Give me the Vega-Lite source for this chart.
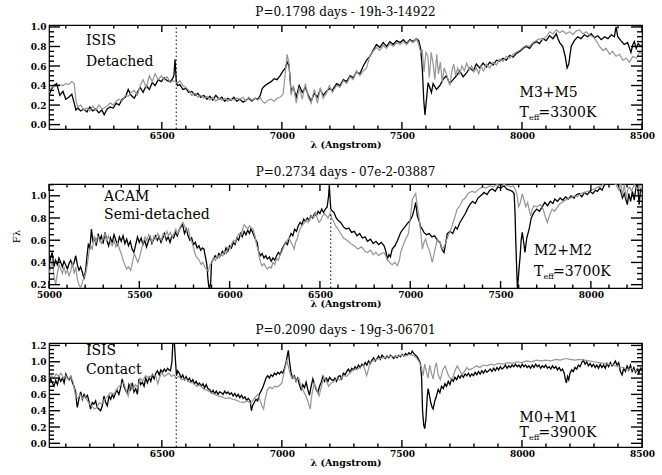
{
"$schema": "https://vega.github.io/schema/vega-lite/v6.json",
"background": "white",
"padding": {"left": 10, "top": 5, "right": 5, "bottom": 5},
"bounds": "flush",
"spacing": 55,
"config": {
  "view": {"stroke": "#000", "strokeWidth": 1.2},
  "font": "DejaVu Serif",
  "axis": {"grid": false, "domain": false, "ticks": false, "labelFont": "DejaVu Serif", "labelFontSize": 9, "labelFontWeight": "bold", "labelColor": "#000", "titleFont": "DejaVu Serif", "titleFontSize": 9.5, "titleFontWeight": "bold", "titleColor": "#000", "labelOverlap": false, "labelFlush": false},
  "title": {"font": "DejaVu Serif", "fontSize": 12, "fontWeight": "normal", "color": "#000", "offset": 4},
  "text": {"font": "DejaVu Serif", "fontSize": 14, "align": "left", "baseline": "alphabetic", "color": "#000"},
  "rule": {"color": "#000", "strokeWidth": 1.4}
},
"datasets": {
"xM13": [{"t":6500},{"t":7000},{"t":7500},{"t":8000},{"t":8500}],
"xm13": [{"t":6100},{"t":6200},{"t":6300},{"t":6400},{"t":6600},{"t":6700},{"t":6800},{"t":6900},{"t":7100},{"t":7200},{"t":7300},{"t":7400},{"t":7600},{"t":7700},{"t":7800},{"t":7900},{"t":8100},{"t":8200},{"t":8300},{"t":8400}],
"xM2": [{"t":5000},{"t":5500},{"t":6000},{"t":6500},{"t":7000},{"t":7500},{"t":8000}],
"xm2": [{"t":5100},{"t":5200},{"t":5300},{"t":5400},{"t":5600},{"t":5700},{"t":5800},{"t":5900},{"t":6100},{"t":6200},{"t":6300},{"t":6400},{"t":6600},{"t":6700},{"t":6800},{"t":6900},{"t":7100},{"t":7200},{"t":7300},{"t":7400},{"t":7600},{"t":7700},{"t":7800},{"t":7900},{"t":8100},{"t":8200}],
"yM1": [{"t":0},{"t":0.2},{"t":0.4},{"t":0.6},{"t":0.8},{"t":1.0}],
"ym1": [{"t":0.05},{"t":0.1},{"t":0.15},{"t":0.25},{"t":0.3},{"t":0.35},{"t":0.45},{"t":0.5},{"t":0.55},{"t":0.65},{"t":0.7},{"t":0.75},{"t":0.85},{"t":0.9},{"t":0.95}],
"yM2": [{"t":0.2},{"t":0.4},{"t":0.6},{"t":0.8},{"t":1.0}],
"ym2": [{"t":0.25},{"t":0.3},{"t":0.35},{"t":0.45},{"t":0.5},{"t":0.55},{"t":0.65},{"t":0.7},{"t":0.75},{"t":0.85},{"t":0.9},{"t":0.95},{"t":1.05},{"t":1.1}],
"yM3": [{"t":0},{"t":0.2},{"t":0.4},{"t":0.6},{"t":0.8},{"t":1.0},{"t":1.2}],
"ym3": [{"t":0.05},{"t":0.1},{"t":0.15},{"t":0.25},{"t":0.3},{"t":0.35},{"t":0.45},{"t":0.5},{"t":0.55},{"t":0.65},{"t":0.7},{"t":0.75},{"t":0.85},{"t":0.9},{"t":0.95},{"t":1.05},{"t":1.1},{"t":1.15}],
"p1b": [{"w":6030,"f":0.30},{"w":6040,"f":0.36},{"w":6050,"f":0.40},{"w":6062,"f":0.42},{"w":6075,"f":0.30},{"w":6088,"f":0.34},{"w":6100,"f":0.26},{"w":6112,"f":0.28},{"w":6125,"f":0.31},{"w":6135,"f":0.22},{"w":6142,"f":0.15},{"w":6150,"f":0.17},{"w":6162,"f":0.14},{"w":6175,"f":0.16},{"w":6188,"f":0.13},{"w":6200,"f":0.18},{"w":6212,"f":0.14},{"w":6225,"f":0.16},{"w":6238,"f":0.12},{"w":6250,"f":0.15},{"w":6260,"f":0.10},{"w":6272,"f":0.16},{"w":6285,"f":0.18},{"w":6298,"f":0.17},{"w":6310,"f":0.22},{"w":6322,"f":0.20},{"w":6335,"f":0.26},{"w":6348,"f":0.28},{"w":6360,"f":0.36},{"w":6372,"f":0.30},{"w":6385,"f":0.27},{"w":6398,"f":0.33},{"w":6410,"f":0.38},{"w":6422,"f":0.33},{"w":6435,"f":0.40},{"w":6448,"f":0.36},{"w":6460,"f":0.43},{"w":6472,"f":0.40},{"w":6485,"f":0.46},{"w":6498,"f":0.44},{"w":6510,"f":0.48},{"w":6522,"f":0.45},{"w":6535,"f":0.44},{"w":6545,"f":0.47},{"w":6550,"f":0.50},{"w":6555,"f":0.67},{"w":6560,"f":0.45},{"w":6565,"f":0.40},{"w":6575,"f":0.41},{"w":6588,"f":0.36},{"w":6600,"f":0.37},{"w":6612,"f":0.33},{"w":6625,"f":0.34},{"w":6638,"f":0.30},{"w":6650,"f":0.32},{"w":6662,"f":0.28},{"w":6675,"f":0.30},{"w":6688,"f":0.26},{"w":6700,"f":0.29},{"w":6712,"f":0.25},{"w":6725,"f":0.30},{"w":6738,"f":0.26},{"w":6750,"f":0.28},{"w":6762,"f":0.24},{"w":6775,"f":0.27},{"w":6788,"f":0.25},{"w":6800,"f":0.28},{"w":6812,"f":0.24},{"w":6825,"f":0.26},{"w":6838,"f":0.23},{"w":6850,"f":0.25},{"w":6862,"f":0.27},{"w":6875,"f":0.24},{"w":6888,"f":0.27},{"w":6900,"f":0.26},{"w":6910,"f":0.30},{"w":6918,"f":0.37},{"w":6930,"f":0.40},{"w":6942,"f":0.42},{"w":6955,"f":0.44},{"w":6968,"f":0.47},{"w":6980,"f":0.46},{"w":6992,"f":0.50},{"w":7005,"f":0.55},{"w":7015,"f":0.58},{"w":7022,"f":0.64},{"w":7030,"f":0.60},{"w":7038,"f":0.35},{"w":7048,"f":0.38},{"w":7060,"f":0.28},{"w":7072,"f":0.40},{"w":7085,"f":0.33},{"w":7098,"f":0.38},{"w":7110,"f":0.30},{"w":7122,"f":0.24},{"w":7135,"f":0.32},{"w":7148,"f":0.28},{"w":7160,"f":0.36},{"w":7172,"f":0.30},{"w":7185,"f":0.34},{"w":7198,"f":0.37},{"w":7210,"f":0.35},{"w":7228,"f":0.42},{"w":7242,"f":0.40},{"w":7256,"f":0.46},{"w":7270,"f":0.44},{"w":7284,"f":0.50},{"w":7297,"f":0.48},{"w":7311,"f":0.54},{"w":7325,"f":0.52},{"w":7339,"f":0.60},{"w":7353,"f":0.66},{"w":7367,"f":0.70},{"w":7380,"f":0.76},{"w":7394,"f":0.82},{"w":7408,"f":0.79},{"w":7422,"f":0.84},{"w":7436,"f":0.80},{"w":7450,"f":0.85},{"w":7464,"f":0.82},{"w":7478,"f":0.86},{"w":7492,"f":0.84},{"w":7506,"f":0.87},{"w":7520,"f":0.83},{"w":7533,"f":0.87},{"w":7547,"f":0.85},{"w":7560,"f":0.88},{"w":7570,"f":0.86},{"w":7578,"f":0.78},{"w":7585,"f":0.57},{"w":7591,"f":0.25},{"w":7596,"f":0.10},{"w":7602,"f":0.25},{"w":7609,"f":0.43},{"w":7616,"f":0.38},{"w":7623,"f":0.33},{"w":7630,"f":0.42},{"w":7644,"f":0.36},{"w":7658,"f":0.40},{"w":7671,"f":0.46},{"w":7685,"f":0.50},{"w":7699,"f":0.42},{"w":7713,"f":0.46},{"w":7727,"f":0.50},{"w":7741,"f":0.55},{"w":7755,"f":0.49},{"w":7769,"f":0.53},{"w":7783,"f":0.58},{"w":7797,"f":0.55},{"w":7810,"f":0.62},{"w":7824,"f":0.58},{"w":7838,"f":0.63},{"w":7852,"f":0.59},{"w":7866,"f":0.64},{"w":7880,"f":0.61},{"w":7894,"f":0.66},{"w":7907,"f":0.65},{"w":7921,"f":0.68},{"w":7935,"f":0.66},{"w":7949,"f":0.71},{"w":7963,"f":0.69},{"w":7977,"f":0.73},{"w":7991,"f":0.75},{"w":8004,"f":0.78},{"w":8018,"f":0.80},{"w":8032,"f":0.78},{"w":8046,"f":0.83},{"w":8060,"f":0.85},{"w":8073,"f":0.83},{"w":8087,"f":0.88},{"w":8101,"f":0.86},{"w":8115,"f":0.91},{"w":8129,"f":0.88},{"w":8143,"f":0.93},{"w":8150,"f":0.88},{"w":8157,"f":0.84},{"w":8170,"f":0.80},{"w":8180,"f":0.70},{"w":8188,"f":0.58},{"w":8195,"f":0.62},{"w":8205,"f":0.80},{"w":8218,"f":0.86},{"w":8232,"f":0.90},{"w":8246,"f":0.88},{"w":8260,"f":0.92},{"w":8274,"f":0.90},{"w":8288,"f":0.93},{"w":8302,"f":0.89},{"w":8316,"f":0.91},{"w":8330,"f":0.87},{"w":8344,"f":0.90},{"w":8358,"f":0.88},{"w":8372,"f":0.92},{"w":8385,"f":0.90},{"w":8392,"f":1.0},{"w":8399,"f":0.90},{"w":8412,"f":0.86},{"w":8426,"f":0.82},{"w":8440,"f":0.84},{"w":8454,"f":0.74},{"w":8462,"f":0.82},{"w":8468,"f":0.85},{"w":8476,"f":0.78},{"w":8484,"f":0.83},{"w":8496,"f":0.80},{"w":8500,"f":0.81}],
"p1g": [{"w":6030,"f":0.33},{"w":6040,"f":0.38},{"w":6050,"f":0.39},{"w":6062,"f":0.40},{"w":6075,"f":0.41},{"w":6088,"f":0.40},{"w":6100,"f":0.42},{"w":6112,"f":0.41},{"w":6125,"f":0.44},{"w":6135,"f":0.42},{"w":6142,"f":0.25},{"w":6150,"f":0.18},{"w":6162,"f":0.20},{"w":6175,"f":0.15},{"w":6188,"f":0.17},{"w":6200,"f":0.14},{"w":6212,"f":0.19},{"w":6225,"f":0.15},{"w":6238,"f":0.20},{"w":6250,"f":0.16},{"w":6260,"f":0.17},{"w":6272,"f":0.19},{"w":6285,"f":0.22},{"w":6298,"f":0.20},{"w":6310,"f":0.24},{"w":6322,"f":0.26},{"w":6335,"f":0.24},{"w":6348,"f":0.30},{"w":6360,"f":0.29},{"w":6372,"f":0.33},{"w":6385,"f":0.35},{"w":6398,"f":0.30},{"w":6410,"f":0.40},{"w":6422,"f":0.46},{"w":6435,"f":0.38},{"w":6448,"f":0.50},{"w":6460,"f":0.44},{"w":6472,"f":0.52},{"w":6485,"f":0.46},{"w":6498,"f":0.50},{"w":6510,"f":0.46},{"w":6522,"f":0.49},{"w":6535,"f":0.43},{"w":6545,"f":0.45},{"w":6555,"f":0.44},{"w":6565,"f":0.42},{"w":6575,"f":0.45},{"w":6588,"f":0.40},{"w":6600,"f":0.38},{"w":6612,"f":0.35},{"w":6625,"f":0.30},{"w":6638,"f":0.32},{"w":6650,"f":0.28},{"w":6662,"f":0.30},{"w":6675,"f":0.27},{"w":6688,"f":0.29},{"w":6700,"f":0.25},{"w":6712,"f":0.28},{"w":6725,"f":0.24},{"w":6738,"f":0.27},{"w":6750,"f":0.25},{"w":6762,"f":0.27},{"w":6775,"f":0.24},{"w":6788,"f":0.26},{"w":6800,"f":0.25},{"w":6812,"f":0.27},{"w":6825,"f":0.26},{"w":6838,"f":0.28},{"w":6850,"f":0.24},{"w":6862,"f":0.28},{"w":6875,"f":0.25},{"w":6888,"f":0.27},{"w":6900,"f":0.25},{"w":6910,"f":0.28},{"w":6918,"f":0.24},{"w":6930,"f":0.22},{"w":6942,"f":0.25},{"w":6955,"f":0.26},{"w":6968,"f":0.24},{"w":6980,"f":0.27},{"w":6992,"f":0.28},{"w":7005,"f":0.31},{"w":7015,"f":0.55},{"w":7022,"f":0.72},{"w":7030,"f":0.62},{"w":7038,"f":0.30},{"w":7048,"f":0.40},{"w":7060,"f":0.22},{"w":7072,"f":0.38},{"w":7085,"f":0.26},{"w":7098,"f":0.42},{"w":7110,"f":0.28},{"w":7122,"f":0.22},{"w":7135,"f":0.36},{"w":7148,"f":0.22},{"w":7160,"f":0.38},{"w":7172,"f":0.27},{"w":7185,"f":0.32},{"w":7198,"f":0.40},{"w":7210,"f":0.33},{"w":7228,"f":0.40},{"w":7242,"f":0.38},{"w":7256,"f":0.45},{"w":7270,"f":0.42},{"w":7284,"f":0.49},{"w":7297,"f":0.46},{"w":7311,"f":0.55},{"w":7325,"f":0.50},{"w":7339,"f":0.55},{"w":7353,"f":0.58},{"w":7367,"f":0.71},{"w":7380,"f":0.75},{"w":7394,"f":0.79},{"w":7408,"f":0.76},{"w":7422,"f":0.81},{"w":7436,"f":0.78},{"w":7450,"f":0.83},{"w":7464,"f":0.80},{"w":7478,"f":0.84},{"w":7492,"f":0.82},{"w":7506,"f":0.85},{"w":7520,"f":0.82},{"w":7533,"f":0.86},{"w":7547,"f":0.84},{"w":7560,"f":0.88},{"w":7570,"f":0.82},{"w":7578,"f":0.74},{"w":7585,"f":0.76},{"w":7592,"f":0.54},{"w":7600,"f":0.74},{"w":7608,"f":0.70},{"w":7614,"f":0.48},{"w":7622,"f":0.74},{"w":7630,"f":0.62},{"w":7637,"f":0.46},{"w":7645,"f":0.72},{"w":7652,"f":0.52},{"w":7660,"f":0.64},{"w":7668,"f":0.44},{"w":7676,"f":0.58},{"w":7685,"f":0.52},{"w":7692,"f":0.46},{"w":7700,"f":0.40},{"w":7708,"f":0.55},{"w":7716,"f":0.62},{"w":7724,"f":0.50},{"w":7732,"f":0.58},{"w":7741,"f":0.52},{"w":7750,"f":0.60},{"w":7760,"f":0.55},{"w":7770,"f":0.63},{"w":7780,"f":0.56},{"w":7790,"f":0.60},{"w":7800,"f":0.54},{"w":7810,"f":0.58},{"w":7820,"f":0.52},{"w":7830,"f":0.60},{"w":7840,"f":0.55},{"w":7852,"f":0.62},{"w":7866,"f":0.58},{"w":7880,"f":0.64},{"w":7894,"f":0.61},{"w":7907,"f":0.67},{"w":7921,"f":0.65},{"w":7935,"f":0.70},{"w":7949,"f":0.68},{"w":7963,"f":0.72},{"w":7977,"f":0.74},{"w":7991,"f":0.76},{"w":8004,"f":0.79},{"w":8018,"f":0.81},{"w":8032,"f":0.80},{"w":8046,"f":0.84},{"w":8060,"f":0.86},{"w":8073,"f":0.88},{"w":8087,"f":0.87},{"w":8101,"f":0.90},{"w":8115,"f":0.95},{"w":8129,"f":0.93},{"w":8143,"f":0.97},{"w":8157,"f":0.94},{"w":8170,"f":0.96},{"w":8184,"f":0.93},{"w":8198,"f":0.95},{"w":8212,"f":0.92},{"w":8226,"f":0.96},{"w":8240,"f":0.97},{"w":8254,"f":0.93},{"w":8268,"f":0.95},{"w":8281,"f":0.92},{"w":8295,"f":0.90},{"w":8309,"f":0.86},{"w":8323,"f":0.80},{"w":8337,"f":0.76},{"w":8351,"f":0.78},{"w":8365,"f":0.72},{"w":8378,"f":0.75},{"w":8392,"f":0.70},{"w":8406,"f":0.72},{"w":8420,"f":0.66},{"w":8434,"f":0.68},{"w":8448,"f":0.64},{"w":8462,"f":0.70},{"w":8476,"f":0.68},{"w":8490,"f":0.74},{"w":8500,"f":0.72}],
"p2b": [{"w":5000,"f":0.37},{"w":5010,"f":0.45},{"w":5018,"f":0.49},{"w":5027,"f":0.36},{"w":5036,"f":0.42},{"w":5046,"f":0.38},{"w":5055,"f":0.44},{"w":5065,"f":0.40},{"w":5074,"f":0.36},{"w":5083,"f":0.41},{"w":5092,"f":0.38},{"w":5102,"f":0.34},{"w":5111,"f":0.39},{"w":5120,"f":0.42},{"w":5130,"f":0.37},{"w":5139,"f":0.40},{"w":5148,"f":0.46},{"w":5157,"f":0.38},{"w":5166,"f":0.33},{"w":5175,"f":0.36},{"w":5185,"f":0.31},{"w":5194,"f":0.25},{"w":5203,"f":0.33},{"w":5210,"f":0.45},{"w":5218,"f":0.57},{"w":5226,"f":0.52},{"w":5235,"f":0.70},{"w":5244,"f":0.58},{"w":5253,"f":0.62},{"w":5262,"f":0.55},{"w":5272,"f":0.66},{"w":5281,"f":0.60},{"w":5290,"f":0.64},{"w":5300,"f":0.57},{"w":5310,"f":0.67},{"w":5320,"f":0.60},{"w":5330,"f":0.55},{"w":5340,"f":0.62},{"w":5350,"f":0.58},{"w":5360,"f":0.65},{"w":5370,"f":0.60},{"w":5380,"f":0.56},{"w":5390,"f":0.63},{"w":5400,"f":0.59},{"w":5410,"f":0.64},{"w":5420,"f":0.57},{"w":5430,"f":0.61},{"w":5440,"f":0.55},{"w":5450,"f":0.59},{"w":5460,"f":0.52},{"w":5470,"f":0.49},{"w":5480,"f":0.56},{"w":5490,"f":0.63},{"w":5500,"f":0.58},{"w":5510,"f":0.62},{"w":5520,"f":0.56},{"w":5530,"f":0.60},{"w":5540,"f":0.54},{"w":5550,"f":0.59},{"w":5560,"f":0.63},{"w":5570,"f":0.57},{"w":5580,"f":0.61},{"w":5590,"f":0.64},{"w":5600,"f":0.60},{"w":5610,"f":0.63},{"w":5620,"f":0.58},{"w":5630,"f":0.62},{"w":5640,"f":0.66},{"w":5650,"f":0.60},{"w":5660,"f":0.63},{"w":5670,"f":0.58},{"w":5680,"f":0.64},{"w":5690,"f":0.62},{"w":5700,"f":0.67},{"w":5710,"f":0.64},{"w":5720,"f":0.69},{"w":5730,"f":0.72},{"w":5740,"f":0.74},{"w":5750,"f":0.66},{"w":5760,"f":0.70},{"w":5770,"f":0.64},{"w":5780,"f":0.60},{"w":5790,"f":0.62},{"w":5800,"f":0.56},{"w":5810,"f":0.58},{"w":5820,"f":0.53},{"w":5830,"f":0.55},{"w":5840,"f":0.51},{"w":5850,"f":0.53},{"w":5858,"f":0.52},{"w":5866,"f":0.45},{"w":5874,"f":0.38},{"w":5880,"f":0.25},{"w":5885,"f":0.18},{"w":5890,"f":0.17},{"w":5895,"f":0.22},{"w":5900,"f":0.40},{"w":5910,"f":0.43},{"w":5920,"f":0.46},{"w":5930,"f":0.44},{"w":5940,"f":0.48},{"w":5950,"f":0.46},{"w":5960,"f":0.50},{"w":5970,"f":0.48},{"w":5980,"f":0.53},{"w":5990,"f":0.50},{"w":6000,"f":0.55},{"w":6010,"f":0.53},{"w":6020,"f":0.58},{"w":6030,"f":0.56},{"w":6040,"f":0.62},{"w":6050,"f":0.60},{"w":6060,"f":0.66},{"w":6070,"f":0.63},{"w":6080,"f":0.68},{"w":6090,"f":0.65},{"w":6100,"f":0.69},{"w":6110,"f":0.66},{"w":6117,"f":0.70},{"w":6125,"f":0.68},{"w":6135,"f":0.64},{"w":6145,"f":0.60},{"w":6153,"f":0.58},{"w":6160,"f":0.50},{"w":6170,"f":0.46},{"w":6180,"f":0.48},{"w":6190,"f":0.44},{"w":6200,"f":0.46},{"w":6209,"f":0.43},{"w":6220,"f":0.45},{"w":6230,"f":0.41},{"w":6240,"f":0.44},{"w":6250,"f":0.42},{"w":6260,"f":0.46},{"w":6270,"f":0.49},{"w":6280,"f":0.47},{"w":6290,"f":0.52},{"w":6300,"f":0.55},{"w":6310,"f":0.58},{"w":6320,"f":0.56},{"w":6330,"f":0.62},{"w":6340,"f":0.66},{"w":6350,"f":0.64},{"w":6360,"f":0.70},{"w":6370,"f":0.68},{"w":6380,"f":0.73},{"w":6390,"f":0.76},{"w":6400,"f":0.74},{"w":6410,"f":0.79},{"w":6420,"f":0.77},{"w":6430,"f":0.80},{"w":6440,"f":0.78},{"w":6450,"f":0.82},{"w":6460,"f":0.80},{"w":6470,"f":0.84},{"w":6480,"f":0.82},{"w":6490,"f":0.86},{"w":6500,"f":0.84},{"w":6510,"f":0.88},{"w":6520,"f":0.85},{"w":6530,"f":0.88},{"w":6540,"f":0.90},{"w":6548,"f":1.00},{"w":6552,"f":1.10},{"w":6556,"f":0.98},{"w":6560,"f":0.88},{"w":6570,"f":0.86},{"w":6578,"f":0.85},{"w":6590,"f":0.80},{"w":6600,"f":0.78},{"w":6615,"f":0.76},{"w":6630,"f":0.72},{"w":6645,"f":0.70},{"w":6660,"f":0.71},{"w":6675,"f":0.67},{"w":6690,"f":0.68},{"w":6705,"f":0.64},{"w":6720,"f":0.66},{"w":6735,"f":0.62},{"w":6750,"f":0.63},{"w":6763,"f":0.59},{"w":6780,"f":0.61},{"w":6795,"f":0.57},{"w":6810,"f":0.59},{"w":6825,"f":0.56},{"w":6840,"f":0.58},{"w":6855,"f":0.55},{"w":6865,"f":0.50},{"w":6873,"f":0.43},{"w":6882,"f":0.47},{"w":6890,"f":0.45},{"w":6900,"f":0.52},{"w":6915,"f":0.55},{"w":6930,"f":0.60},{"w":6947,"f":0.67},{"w":6960,"f":0.70},{"w":6970,"f":0.72},{"w":6984,"f":0.75},{"w":7000,"f":0.78},{"w":7012,"f":0.82},{"w":7022,"f":0.88},{"w":7030,"f":0.94},{"w":7039,"f":0.82},{"w":7048,"f":0.78},{"w":7058,"f":0.72},{"w":7067,"f":0.70},{"w":7076,"f":0.67},{"w":7090,"f":0.65},{"w":7105,"f":0.66},{"w":7120,"f":0.63},{"w":7135,"f":0.64},{"w":7150,"f":0.60},{"w":7165,"f":0.58},{"w":7175,"f":0.52},{"w":7187,"f":0.49},{"w":7195,"f":0.56},{"w":7205,"f":0.66},{"w":7220,"f":0.68},{"w":7235,"f":0.66},{"w":7250,"f":0.72},{"w":7260,"f":0.70},{"w":7275,"f":0.76},{"w":7290,"f":0.80},{"w":7305,"f":0.84},{"w":7316,"f":0.88},{"w":7330,"f":0.92},{"w":7345,"f":0.95},{"w":7360,"f":0.93},{"w":7375,"f":0.98},{"w":7390,"f":1.00},{"w":7409,"f":1.03},{"w":7425,"f":1.01},{"w":7440,"f":1.05},{"w":7455,"f":1.06},{"w":7470,"f":1.04},{"w":7485,"f":1.08},{"w":7500,"f":1.07},{"w":7519,"f":1.09},{"w":7535,"f":1.06},{"w":7550,"f":1.05},{"w":7565,"f":1.04},{"w":7575,"f":1.02},{"w":7580,"f":0.85},{"w":7584,"f":0.61},{"w":7589,"f":0.35},{"w":7593,"f":0.17},{"w":7598,"f":0.25},{"w":7602,"f":0.34},{"w":7608,"f":0.45},{"w":7614,"f":0.60},{"w":7620,"f":0.67},{"w":7628,"f":0.58},{"w":7635,"f":0.49},{"w":7645,"f":0.62},{"w":7658,"f":0.70},{"w":7670,"f":0.80},{"w":7685,"f":0.85},{"w":7700,"f":0.88},{"w":7715,"f":0.86},{"w":7730,"f":0.90},{"w":7745,"f":0.94},{"w":7760,"f":0.91},{"w":7775,"f":0.95},{"w":7790,"f":0.93},{"w":7800,"f":0.97},{"w":7815,"f":0.95},{"w":7830,"f":0.98},{"w":7845,"f":0.96},{"w":7860,"f":0.99},{"w":7875,"f":0.97},{"w":7890,"f":1.00},{"w":7907,"f":0.98},{"w":7920,"f":1.01},{"w":7935,"f":1.02},{"w":7950,"f":0.99},{"w":7965,"f":1.03},{"w":7980,"f":1.01},{"w":7995,"f":1.04},{"w":8010,"f":1.02},{"w":8025,"f":1.05},{"w":8036,"f":1.04},{"w":8050,"f":1.07},{"w":8062,"f":1.05},{"w":8073,"f":1.09},{"w":8085,"f":1.12},{"w":8100,"f":1.15},{"w":8115,"f":1.14},{"w":8130,"f":1.13},{"w":8145,"f":1.12},{"w":8165,"f":1.04},{"w":8175,"f":0.98},{"w":8185,"f":1.02},{"w":8195,"f":0.96},{"w":8202,"f":0.92},{"w":8210,"f":1.02},{"w":8220,"f":0.95},{"w":8230,"f":1.04},{"w":8240,"f":0.96},{"w":8250,"f":1.08},{"w":8258,"f":1.12},{"w":8267,"f":0.92},{"w":8275,"f":1.06},{"w":8283,"f":1.04}],
"p2g": [{"w":5000,"f":0.30},{"w":5009,"f":0.35},{"w":5018,"f":0.42},{"w":5027,"f":0.28},{"w":5037,"f":0.20},{"w":5046,"f":0.30},{"w":5055,"f":0.38},{"w":5065,"f":0.34},{"w":5074,"f":0.30},{"w":5083,"f":0.36},{"w":5092,"f":0.30},{"w":5102,"f":0.33},{"w":5111,"f":0.28},{"w":5120,"f":0.32},{"w":5130,"f":0.40},{"w":5139,"f":0.30},{"w":5148,"f":0.36},{"w":5157,"f":0.25},{"w":5166,"f":0.20},{"w":5175,"f":0.17},{"w":5185,"f":0.22},{"w":5194,"f":0.27},{"w":5203,"f":0.30},{"w":5212,"f":0.38},{"w":5222,"f":0.50},{"w":5231,"f":0.55},{"w":5240,"f":0.52},{"w":5250,"f":0.62},{"w":5260,"f":0.58},{"w":5270,"f":0.64},{"w":5280,"f":0.60},{"w":5290,"f":0.57},{"w":5300,"f":0.62},{"w":5310,"f":0.66},{"w":5320,"f":0.60},{"w":5330,"f":0.64},{"w":5340,"f":0.58},{"w":5350,"f":0.55},{"w":5360,"f":0.60},{"w":5370,"f":0.54},{"w":5380,"f":0.58},{"w":5390,"f":0.52},{"w":5400,"f":0.48},{"w":5410,"f":0.42},{"w":5420,"f":0.38},{"w":5430,"f":0.34},{"w":5440,"f":0.36},{"w":5452,"f":0.33},{"w":5462,"f":0.40},{"w":5472,"f":0.48},{"w":5482,"f":0.44},{"w":5492,"f":0.40},{"w":5502,"f":0.45},{"w":5512,"f":0.52},{"w":5522,"f":0.58},{"w":5532,"f":0.63},{"w":5542,"f":0.60},{"w":5552,"f":0.65},{"w":5562,"f":0.62},{"w":5572,"f":0.58},{"w":5582,"f":0.64},{"w":5592,"f":0.61},{"w":5602,"f":0.66},{"w":5612,"f":0.62},{"w":5622,"f":0.60},{"w":5632,"f":0.66},{"w":5642,"f":0.63},{"w":5652,"f":0.68},{"w":5662,"f":0.64},{"w":5672,"f":0.67},{"w":5682,"f":0.63},{"w":5692,"f":0.66},{"w":5702,"f":0.70},{"w":5712,"f":0.66},{"w":5722,"f":0.70},{"w":5732,"f":0.74},{"w":5742,"f":0.76},{"w":5752,"f":0.72},{"w":5762,"f":0.68},{"w":5772,"f":0.70},{"w":5782,"f":0.62},{"w":5792,"f":0.58},{"w":5802,"f":0.52},{"w":5812,"f":0.46},{"w":5822,"f":0.44},{"w":5832,"f":0.42},{"w":5842,"f":0.38},{"w":5852,"f":0.40},{"w":5862,"f":0.36},{"w":5872,"f":0.34},{"w":5882,"f":0.32},{"w":5892,"f":0.38},{"w":5902,"f":0.40},{"w":5912,"f":0.44},{"w":5922,"f":0.42},{"w":5932,"f":0.46},{"w":5942,"f":0.44},{"w":5952,"f":0.48},{"w":5962,"f":0.46},{"w":5972,"f":0.50},{"w":5982,"f":0.48},{"w":5992,"f":0.54},{"w":6002,"f":0.52},{"w":6012,"f":0.57},{"w":6022,"f":0.60},{"w":6032,"f":0.58},{"w":6042,"f":0.63},{"w":6052,"f":0.66},{"w":6062,"f":0.64},{"w":6072,"f":0.70},{"w":6080,"f":0.74},{"w":6090,"f":0.72},{"w":6100,"f":0.70},{"w":6110,"f":0.73},{"w":6120,"f":0.71},{"w":6130,"f":0.70},{"w":6140,"f":0.64},{"w":6150,"f":0.55},{"w":6158,"f":0.52},{"w":6165,"f":0.44},{"w":6172,"f":0.40},{"w":6180,"f":0.37},{"w":6190,"f":0.39},{"w":6200,"f":0.36},{"w":6209,"f":0.34},{"w":6220,"f":0.36},{"w":6230,"f":0.35},{"w":6240,"f":0.40},{"w":6250,"f":0.38},{"w":6260,"f":0.44},{"w":6270,"f":0.42},{"w":6280,"f":0.47},{"w":6290,"f":0.50},{"w":6300,"f":0.54},{"w":6310,"f":0.58},{"w":6320,"f":0.60},{"w":6330,"f":0.62},{"w":6340,"f":0.58},{"w":6350,"f":0.55},{"w":6357,"f":0.52},{"w":6365,"f":0.58},{"w":6375,"f":0.62},{"w":6385,"f":0.68},{"w":6395,"f":0.72},{"w":6405,"f":0.74},{"w":6415,"f":0.76},{"w":6425,"f":0.78},{"w":6435,"f":0.76},{"w":6445,"f":0.80},{"w":6455,"f":0.82},{"w":6465,"f":0.80},{"w":6475,"f":0.85},{"w":6485,"f":0.80},{"w":6495,"f":0.76},{"w":6505,"f":0.78},{"w":6515,"f":0.82},{"w":6525,"f":0.84},{"w":6535,"f":0.82},{"w":6545,"f":0.80},{"w":6555,"f":0.84},{"w":6565,"f":0.80},{"w":6578,"f":0.76},{"w":6590,"f":0.72},{"w":6600,"f":0.70},{"w":6615,"f":0.66},{"w":6630,"f":0.62},{"w":6650,"f":0.60},{"w":6670,"f":0.57},{"w":6690,"f":0.55},{"w":6710,"f":0.52},{"w":6730,"f":0.54},{"w":6750,"f":0.50},{"w":6763,"f":0.49},{"w":6780,"f":0.51},{"w":6795,"f":0.47},{"w":6810,"f":0.49},{"w":6825,"f":0.46},{"w":6840,"f":0.48},{"w":6855,"f":0.49},{"w":6870,"f":0.44},{"w":6885,"f":0.40},{"w":6900,"f":0.38},{"w":6915,"f":0.40},{"w":6929,"f":0.37},{"w":6940,"f":0.42},{"w":6947,"f":0.49},{"w":6960,"f":0.55},{"w":6975,"f":0.61},{"w":6990,"f":0.66},{"w":7000,"f":0.80},{"w":7012,"f":0.97},{"w":7022,"f":1.00},{"w":7030,"f":1.02},{"w":7040,"f":0.90},{"w":7050,"f":0.79},{"w":7060,"f":0.64},{"w":7067,"f":0.52},{"w":7076,"f":0.58},{"w":7085,"f":0.61},{"w":7095,"f":0.55},{"w":7108,"f":0.50},{"w":7122,"f":0.40},{"w":7135,"f":0.50},{"w":7150,"f":0.61},{"w":7165,"f":0.58},{"w":7178,"f":0.52},{"w":7190,"f":0.55},{"w":7205,"f":0.62},{"w":7218,"f":0.67},{"w":7230,"f":0.72},{"w":7245,"f":0.80},{"w":7260,"f":0.88},{"w":7275,"f":0.91},{"w":7290,"f":0.96},{"w":7305,"f":0.98},{"w":7320,"f":1.02},{"w":7340,"f":1.04},{"w":7360,"f":1.03},{"w":7380,"f":1.06},{"w":7400,"f":1.08},{"w":7420,"f":1.07},{"w":7440,"f":1.09},{"w":7460,"f":1.08},{"w":7480,"f":1.10},{"w":7500,"f":1.09},{"w":7520,"f":1.10},{"w":7540,"f":1.09},{"w":7555,"f":1.08},{"w":7570,"f":1.09},{"w":7580,"f":1.06},{"w":7590,"f":1.02},{"w":7600,"f":0.90},{"w":7610,"f":0.94},{"w":7620,"f":1.02},{"w":7630,"f":0.96},{"w":7640,"f":0.90},{"w":7650,"f":0.94},{"w":7660,"f":0.86},{"w":7667,"f":0.82},{"w":7675,"f":0.88},{"w":7685,"f":0.91},{"w":7700,"f":0.90},{"w":7720,"f":0.92},{"w":7735,"f":0.88},{"w":7750,"f":0.80},{"w":7759,"f":0.76},{"w":7770,"f":0.82},{"w":7785,"f":0.88},{"w":7800,"f":0.86},{"w":7815,"f":0.90},{"w":7830,"f":0.93},{"w":7850,"f":0.95},{"w":7870,"f":0.97},{"w":7890,"f":0.98},{"w":7907,"f":1.00},{"w":7925,"f":0.99},{"w":7945,"f":1.02},{"w":7965,"f":1.03},{"w":8000,"f":1.05},{"w":8020,"f":1.06},{"w":8040,"f":1.08},{"w":8060,"f":1.09},{"w":8075,"f":1.12},{"w":8085,"f":1.14},{"w":8095,"f":1.16},{"w":8120,"f":1.12},{"w":8140,"f":1.10},{"w":8155,"f":1.05},{"w":8165,"f":1.12},{"w":8175,"f":1.00},{"w":8185,"f":1.10},{"w":8195,"f":0.98},{"w":8205,"f":1.06},{"w":8215,"f":1.08},{"w":8225,"f":1.04},{"w":8240,"f":1.10},{"w":8255,"f":1.06},{"w":8270,"f":1.08},{"w":8283,"f":1.05}],
"p3b": [{"w":6030,"f":0.73},{"w":6037,"f":0.79},{"w":6044,"f":0.74},{"w":6051,"f":0.70},{"w":6058,"f":0.77},{"w":6065,"f":0.72},{"w":6072,"f":0.81},{"w":6079,"f":0.76},{"w":6086,"f":0.80},{"w":6093,"f":0.74},{"w":6100,"f":0.85},{"w":6107,"f":0.80},{"w":6114,"f":0.78},{"w":6121,"f":0.82},{"w":6128,"f":0.74},{"w":6134,"f":0.70},{"w":6141,"f":0.63},{"w":6145,"f":0.50},{"w":6148,"f":0.44},{"w":6155,"f":0.55},{"w":6162,"f":0.63},{"w":6169,"f":0.54},{"w":6176,"f":0.60},{"w":6183,"f":0.56},{"w":6190,"f":0.59},{"w":6196,"f":0.52},{"w":6203,"f":0.42},{"w":6210,"f":0.50},{"w":6217,"f":0.48},{"w":6224,"f":0.52},{"w":6231,"f":0.44},{"w":6238,"f":0.42},{"w":6245,"f":0.40},{"w":6252,"f":0.46},{"w":6259,"f":0.58},{"w":6266,"f":0.50},{"w":6273,"f":0.46},{"w":6280,"f":0.58},{"w":6287,"f":0.54},{"w":6294,"f":0.60},{"w":6300,"f":0.56},{"w":6307,"f":0.62},{"w":6314,"f":0.65},{"w":6321,"f":0.60},{"w":6328,"f":0.68},{"w":6335,"f":0.79},{"w":6342,"f":0.70},{"w":6349,"f":0.65},{"w":6356,"f":0.61},{"w":6363,"f":0.72},{"w":6370,"f":0.66},{"w":6377,"f":0.74},{"w":6384,"f":0.63},{"w":6391,"f":0.67},{"w":6398,"f":0.60},{"w":6405,"f":0.79},{"w":6412,"f":0.72},{"w":6419,"f":0.75},{"w":6426,"f":0.70},{"w":6433,"f":0.80},{"w":6440,"f":0.74},{"w":6447,"f":0.81},{"w":6454,"f":0.76},{"w":6461,"f":0.84},{"w":6468,"f":0.79},{"w":6475,"f":0.86},{"w":6482,"f":0.89},{"w":6489,"f":0.84},{"w":6496,"f":0.90},{"w":6503,"f":0.87},{"w":6510,"f":0.91},{"w":6517,"f":0.88},{"w":6524,"f":0.92},{"w":6530,"f":0.90},{"w":6536,"f":0.89},{"w":6542,"f":1.0},{"w":6546,"f":1.24},{"w":6552,"f":1.24},{"w":6556,"f":1.05},{"w":6561,"f":0.83},{"w":6566,"f":0.89},{"w":6573,"f":0.86},{"w":6580,"f":0.80},{"w":6587,"f":0.84},{"w":6594,"f":0.78},{"w":6601,"f":0.82},{"w":6608,"f":0.77},{"w":6615,"f":0.80},{"w":6622,"f":0.75},{"w":6629,"f":0.78},{"w":6636,"f":0.73},{"w":6643,"f":0.76},{"w":6650,"f":0.72},{"w":6657,"f":0.74},{"w":6664,"f":0.70},{"w":6671,"f":0.73},{"w":6678,"f":0.68},{"w":6685,"f":0.72},{"w":6692,"f":0.67},{"w":6699,"f":0.66},{"w":6706,"f":0.62},{"w":6713,"f":0.65},{"w":6720,"f":0.61},{"w":6727,"f":0.64},{"w":6734,"f":0.60},{"w":6741,"f":0.63},{"w":6748,"f":0.62},{"w":6755,"f":0.60},{"w":6762,"f":0.64},{"w":6769,"f":0.61},{"w":6776,"f":0.63},{"w":6783,"f":0.60},{"w":6790,"f":0.62},{"w":6797,"f":0.58},{"w":6804,"f":0.61},{"w":6811,"f":0.57},{"w":6818,"f":0.60},{"w":6825,"f":0.56},{"w":6832,"f":0.59},{"w":6839,"f":0.55},{"w":6846,"f":0.57},{"w":6853,"f":0.53},{"w":6860,"f":0.55},{"w":6868,"f":0.52},{"w":6873,"f":0.40},{"w":6878,"f":0.46},{"w":6885,"f":0.50},{"w":6892,"f":0.54},{"w":6899,"f":0.52},{"w":6906,"f":0.60},{"w":6913,"f":0.64},{"w":6920,"f":0.68},{"w":6927,"f":0.74},{"w":6934,"f":0.80},{"w":6941,"f":0.83},{"w":6948,"f":0.80},{"w":6955,"f":0.84},{"w":6962,"f":0.82},{"w":6969,"f":0.86},{"w":6976,"f":0.84},{"w":6983,"f":0.87},{"w":6990,"f":0.85},{"w":6997,"f":0.88},{"w":7004,"f":0.86},{"w":7011,"f":0.92},{"w":7018,"f":1.00},{"w":7024,"f":1.10},{"w":7027,"f":1.14},{"w":7031,"f":1.02},{"w":7038,"f":0.87},{"w":7045,"f":0.80},{"w":7052,"f":0.83},{"w":7059,"f":0.76},{"w":7066,"f":0.80},{"w":7073,"f":0.72},{"w":7080,"f":0.66},{"w":7087,"f":0.72},{"w":7094,"f":0.68},{"w":7101,"f":0.75},{"w":7108,"f":0.66},{"w":7115,"f":0.59},{"w":7122,"f":0.70},{"w":7129,"f":0.79},{"w":7136,"f":0.72},{"w":7143,"f":0.66},{"w":7150,"f":0.62},{"w":7157,"f":0.70},{"w":7164,"f":0.75},{"w":7171,"f":0.82},{"w":7178,"f":0.76},{"w":7185,"f":0.80},{"w":7192,"f":0.76},{"w":7199,"f":0.81},{"w":7206,"f":0.78},{"w":7214,"f":0.77},{"w":7221,"f":0.80},{"w":7228,"f":0.76},{"w":7235,"f":0.82},{"w":7242,"f":0.83},{"w":7249,"f":0.79},{"w":7256,"f":0.86},{"w":7263,"f":0.84},{"w":7270,"f":0.88},{"w":7277,"f":0.91},{"w":7284,"f":0.87},{"w":7291,"f":0.92},{"w":7298,"f":0.90},{"w":7305,"f":0.94},{"w":7312,"f":0.91},{"w":7319,"f":0.96},{"w":7326,"f":0.93},{"w":7333,"f":0.97},{"w":7340,"f":0.95},{"w":7347,"f":0.99},{"w":7354,"f":0.96},{"w":7361,"f":1.01},{"w":7368,"f":0.98},{"w":7375,"f":1.02},{"w":7382,"f":1.05},{"w":7389,"f":1.01},{"w":7396,"f":1.04},{"w":7403,"f":1.07},{"w":7410,"f":1.03},{"w":7417,"f":1.08},{"w":7424,"f":1.06},{"w":7431,"f":1.04},{"w":7438,"f":1.07},{"w":7445,"f":1.05},{"w":7452,"f":1.08},{"w":7459,"f":1.06},{"w":7466,"f":1.04},{"w":7473,"f":1.07},{"w":7480,"f":1.05},{"w":7487,"f":1.08},{"w":7494,"f":1.06},{"w":7501,"f":1.09},{"w":7508,"f":1.07},{"w":7515,"f":1.10},{"w":7522,"f":1.08},{"w":7529,"f":1.11},{"w":7536,"f":1.09},{"w":7543,"f":1.13},{"w":7550,"f":1.10},{"w":7557,"f":1.08},{"w":7564,"f":1.06},{"w":7571,"f":1.02},{"w":7577,"f":0.98},{"w":7582,"f":0.80},{"w":7586,"f":0.40},{"w":7591,"f":0.22},{"w":7595,"f":0.18},{"w":7600,"f":0.30},{"w":7605,"f":0.55},{"w":7609,"f":0.67},{"w":7614,"f":0.60},{"w":7620,"f":0.50},{"w":7626,"f":0.44},{"w":7630,"f":0.42},{"w":7637,"f":0.52},{"w":7644,"f":0.58},{"w":7651,"f":0.66},{"w":7658,"f":0.62},{"w":7665,"f":0.70},{"w":7672,"f":0.67},{"w":7679,"f":0.73},{"w":7686,"f":0.70},{"w":7693,"f":0.76},{"w":7700,"f":0.72},{"w":7707,"f":0.79},{"w":7714,"f":0.76},{"w":7721,"f":0.81},{"w":7728,"f":0.78},{"w":7735,"f":0.83},{"w":7742,"f":0.80},{"w":7749,"f":0.84},{"w":7756,"f":0.81},{"w":7763,"f":0.85},{"w":7770,"f":0.83},{"w":7777,"f":0.86},{"w":7784,"f":0.82},{"w":7791,"f":0.85},{"w":7798,"f":0.83},{"w":7805,"f":0.87},{"w":7812,"f":0.84},{"w":7819,"f":0.88},{"w":7826,"f":0.85},{"w":7833,"f":0.89},{"w":7840,"f":0.86},{"w":7847,"f":0.90},{"w":7854,"f":0.87},{"w":7861,"f":0.89},{"w":7868,"f":0.91},{"w":7875,"f":0.88},{"w":7882,"f":0.92},{"w":7889,"f":0.89},{"w":7896,"f":0.93},{"w":7903,"f":0.90},{"w":7910,"f":0.94},{"w":7917,"f":0.91},{"w":7924,"f":0.93},{"w":7931,"f":0.96},{"w":7938,"f":0.92},{"w":7945,"f":0.95},{"w":7952,"f":0.93},{"w":7959,"f":0.96},{"w":7966,"f":0.94},{"w":7973,"f":0.97},{"w":7980,"f":0.94},{"w":7987,"f":0.96},{"w":7994,"f":0.93},{"w":8001,"f":0.97},{"w":8008,"f":0.94},{"w":8015,"f":0.96},{"w":8022,"f":0.93},{"w":8029,"f":0.95},{"w":8036,"f":0.92},{"w":8043,"f":0.96},{"w":8050,"f":0.93},{"w":8057,"f":0.97},{"w":8064,"f":0.94},{"w":8071,"f":0.96},{"w":8078,"f":0.92},{"w":8085,"f":0.95},{"w":8092,"f":0.93},{"w":8099,"f":0.96},{"w":8106,"f":0.92},{"w":8113,"f":0.94},{"w":8120,"f":0.91},{"w":8127,"f":0.95},{"w":8134,"f":0.92},{"w":8141,"f":0.94},{"w":8148,"f":0.90},{"w":8155,"f":0.93},{"w":8162,"f":0.89},{"w":8169,"f":0.91},{"w":8176,"f":0.86},{"w":8181,"f":0.78},{"w":8185,"f":0.74},{"w":8190,"f":0.82},{"w":8195,"f":0.78},{"w":8200,"f":0.86},{"w":8207,"f":0.90},{"w":8214,"f":0.88},{"w":8221,"f":0.93},{"w":8228,"f":0.91},{"w":8235,"f":0.96},{"w":8242,"f":0.94},{"w":8249,"f":0.99},{"w":8256,"f":1.02},{"w":8263,"f":0.97},{"w":8270,"f":1.00},{"w":8277,"f":0.95},{"w":8284,"f":0.98},{"w":8291,"f":0.94},{"w":8298,"f":0.97},{"w":8305,"f":0.93},{"w":8312,"f":0.96},{"w":8319,"f":0.92},{"w":8326,"f":0.97},{"w":8333,"f":0.93},{"w":8340,"f":0.96},{"w":8347,"f":0.92},{"w":8354,"f":0.98},{"w":8361,"f":0.94},{"w":8368,"f":0.99},{"w":8375,"f":0.95},{"w":8382,"f":0.97},{"w":8389,"f":1.01},{"w":8396,"f":0.96},{"w":8403,"f":0.99},{"w":8410,"f":0.88},{"w":8417,"f":0.84},{"w":8424,"f":0.92},{"w":8431,"f":0.88},{"w":8438,"f":0.95},{"w":8445,"f":0.90},{"w":8452,"f":0.96},{"w":8459,"f":0.88},{"w":8466,"f":0.93},{"w":8473,"f":0.87},{"w":8480,"f":0.91},{"w":8487,"f":0.86},{"w":8494,"f":0.92},{"w":8500,"f":0.90}],
"p3g": [{"w":6030,"f":0.79},{"w":6040,"f":0.83},{"w":6050,"f":0.80},{"w":6060,"f":0.85},{"w":6070,"f":0.82},{"w":6080,"f":0.86},{"w":6090,"f":0.80},{"w":6100,"f":0.83},{"w":6110,"f":0.78},{"w":6120,"f":0.82},{"w":6130,"f":0.76},{"w":6141,"f":0.57},{"w":6150,"f":0.55},{"w":6160,"f":0.60},{"w":6170,"f":0.55},{"w":6180,"f":0.58},{"w":6190,"f":0.52},{"w":6200,"f":0.48},{"w":6210,"f":0.45},{"w":6220,"f":0.42},{"w":6230,"f":0.44},{"w":6240,"f":0.50},{"w":6250,"f":0.48},{"w":6260,"f":0.54},{"w":6270,"f":0.56},{"w":6285,"f":0.62},{"w":6300,"f":0.60},{"w":6315,"f":0.68},{"w":6330,"f":0.72},{"w":6340,"f":0.75},{"w":6350,"f":0.66},{"w":6360,"f":0.58},{"w":6370,"f":0.72},{"w":6380,"f":0.66},{"w":6390,"f":0.72},{"w":6400,"f":0.68},{"w":6410,"f":0.80},{"w":6420,"f":0.76},{"w":6432,"f":0.83},{"w":6445,"f":0.80},{"w":6460,"f":0.84},{"w":6475,"f":0.82},{"w":6483,"f":0.73},{"w":6490,"f":0.80},{"w":6500,"f":0.87},{"w":6510,"f":0.82},{"w":6520,"f":0.84},{"w":6530,"f":0.86},{"w":6540,"f":0.82},{"w":6550,"f":0.84},{"w":6560,"f":0.80},{"w":6570,"f":0.82},{"w":6585,"f":0.78},{"w":6600,"f":0.79},{"w":6615,"f":0.75},{"w":6630,"f":0.74},{"w":6645,"f":0.70},{"w":6660,"f":0.71},{"w":6675,"f":0.66},{"w":6690,"f":0.65},{"w":6705,"f":0.62},{"w":6720,"f":0.60},{"w":6735,"f":0.58},{"w":6750,"f":0.57},{"w":6765,"f":0.55},{"w":6780,"f":0.56},{"w":6795,"f":0.54},{"w":6810,"f":0.53},{"w":6825,"f":0.51},{"w":6840,"f":0.50},{"w":6855,"f":0.52},{"w":6870,"f":0.49},{"w":6885,"f":0.55},{"w":6900,"f":0.60},{"w":6910,"f":0.52},{"w":6917,"f":0.46},{"w":6924,"f":0.42},{"w":6930,"f":0.54},{"w":6940,"f":0.66},{"w":6950,"f":0.69},{"w":6960,"f":0.67},{"w":6970,"f":0.70},{"w":6980,"f":0.69},{"w":6990,"f":0.71},{"w":7000,"f":0.74},{"w":7010,"f":0.88},{"w":7021,"f":1.02},{"w":7030,"f":0.90},{"w":7040,"f":0.80},{"w":7050,"f":0.82},{"w":7060,"f":0.76},{"w":7070,"f":0.80},{"w":7080,"f":0.70},{"w":7090,"f":0.64},{"w":7100,"f":0.58},{"w":7110,"f":0.50},{"w":7118,"f":0.42},{"w":7125,"f":0.60},{"w":7135,"f":0.74},{"w":7145,"f":0.66},{"w":7155,"f":0.58},{"w":7165,"f":0.70},{"w":7175,"f":0.81},{"w":7185,"f":0.76},{"w":7195,"f":0.70},{"w":7205,"f":0.74},{"w":7214,"f":0.75},{"w":7228,"f":0.79},{"w":7242,"f":0.78},{"w":7256,"f":0.83},{"w":7270,"f":0.82},{"w":7284,"f":0.87},{"w":7298,"f":0.90},{"w":7312,"f":0.91},{"w":7326,"f":0.93},{"w":7340,"f":0.96},{"w":7353,"f":0.83},{"w":7360,"f":0.90},{"w":7367,"f":0.99},{"w":7380,"f":1.01},{"w":7395,"f":1.03},{"w":7410,"f":1.04},{"w":7425,"f":1.05},{"w":7440,"f":1.06},{"w":7455,"f":1.07},{"w":7470,"f":1.06},{"w":7485,"f":1.07},{"w":7500,"f":1.08},{"w":7515,"f":1.07},{"w":7530,"f":1.09},{"w":7547,"f":1.08},{"w":7560,"f":1.05},{"w":7574,"f":0.99},{"w":7582,"f":0.92},{"w":7588,"f":0.83},{"w":7595,"f":0.97},{"w":7602,"f":0.88},{"w":7609,"f":0.80},{"w":7616,"f":0.96},{"w":7623,"f":0.86},{"w":7630,"f":0.79},{"w":7637,"f":0.92},{"w":7644,"f":0.99},{"w":7651,"f":0.84},{"w":7660,"f":0.78},{"w":7670,"f":0.90},{"w":7680,"f":0.95},{"w":7690,"f":0.86},{"w":7700,"f":0.80},{"w":7710,"f":0.79},{"w":7720,"f":0.88},{"w":7730,"f":0.95},{"w":7740,"f":0.90},{"w":7750,"f":0.84},{"w":7760,"f":0.88},{"w":7770,"f":0.93},{"w":7780,"f":0.90},{"w":7795,"f":0.92},{"w":7810,"f":0.95},{"w":7825,"f":0.93},{"w":7840,"f":0.96},{"w":7855,"f":0.95},{"w":7870,"f":0.97},{"w":7885,"f":0.96},{"w":7900,"f":0.98},{"w":7920,"f":0.97},{"w":7940,"f":0.99},{"w":7960,"f":0.98},{"w":7980,"f":1.00},{"w":8000,"f":0.99},{"w":8020,"f":1.01},{"w":8040,"f":1.00},{"w":8060,"f":1.02},{"w":8080,"f":1.01},{"w":8100,"f":1.02},{"w":8120,"f":1.01},{"w":8140,"f":1.03},{"w":8160,"f":1.02},{"w":8180,"f":1.04},{"w":8200,"f":1.03},{"w":8220,"f":1.02},{"w":8240,"f":1.03},{"w":8260,"f":1.02},{"w":8280,"f":1.01},{"w":8300,"f":1.00},{"w":8320,"f":0.99},{"w":8340,"f":0.98},{"w":8360,"f":0.97},{"w":8380,"f":0.96},{"w":8400,"f":0.94},{"w":8420,"f":0.93},{"w":8440,"f":0.90},{"w":8455,"f":0.92},{"w":8470,"f":0.88},{"w":8485,"f":0.91},{"w":8500,"f":0.89}]
},
"vconcat": [
{
  "width": 593, "height": 104,
  "title": {"text": "P=0.1798 days - 19h-3-14922"},
  "layer": [
    {"data": {"name": "p1b"}, "mark": {"type": "line", "color": "#000", "strokeWidth": 1.3, "clip": true},
     "encoding": {
      "x": {"field": "w", "type": "quantitative", "scale": {"domain": [6030, 8500], "nice": false, "zero": false},
            "axis": {"orient": "bottom", "values": [6500,7000,7500,8000,8500], "format": "d", "labelPadding": 2, "title": "λ (Angstrom)", "titlePadding": -1}},
      "y": {"field": "f", "type": "quantitative", "scale": {"domain": [-0.045, 1.02], "nice": false, "zero": false},
            "axis": {"orient": "left", "values": [0,0.2,0.4,0.6,0.8,1.0], "format": ".1f", "labelPadding": 3, "title": null}}
     }},
    {"data": {"name": "p1g"}, "mark": {"type": "line", "color": "#959595", "strokeWidth": 1.2, "clip": true},
     "encoding": {"x": {"field": "w", "type": "quantitative", "axis": null}, "y": {"field": "f", "type": "quantitative", "axis": null}}},
    {"data": {"values": [{}]}, "mark": {"type": "rule", "strokeWidth": 1, "strokeDash": [1.5, 2.5]},
     "encoding": {"x": {"datum": 6560, "type": "quantitative", "axis": null}, "y": {"datum": -0.045, "type": "quantitative", "axis": null}, "y2": {"datum": 1.02}}},
    {"data": {"name": "xM13"}, "mark": "rule", "encoding": {"x": {"field": "t", "type": "quantitative", "axis": null}, "y": {"datum": -0.045, "type": "quantitative", "axis": null}, "y2": {"datum": 0.0267}}},
    {"data": {"name": "xm13"}, "mark": "rule", "encoding": {"x": {"field": "t", "type": "quantitative", "axis": null}, "y": {"datum": -0.045, "type": "quantitative", "axis": null}, "y2": {"datum": -0.0092}}},
    {"data": {"name": "xM13"}, "mark": "rule", "encoding": {"x": {"field": "t", "type": "quantitative", "axis": null}, "y": {"datum": 1.02, "type": "quantitative", "axis": null}, "y2": {"datum": 0.9483}}},
    {"data": {"name": "xm13"}, "mark": "rule", "encoding": {"x": {"field": "t", "type": "quantitative", "axis": null}, "y": {"datum": 1.02, "type": "quantitative", "axis": null}, "y2": {"datum": 0.9842}}},
    {"data": {"name": "yM1"}, "mark": "rule", "encoding": {"y": {"field": "t", "type": "quantitative", "axis": null}, "x": {"datum": 6030, "type": "quantitative", "axis": null}, "x2": {"datum": 6075.8}}},
    {"data": {"name": "ym1"}, "mark": "rule", "encoding": {"y": {"field": "t", "type": "quantitative", "axis": null}, "x": {"datum": 6030, "type": "quantitative", "axis": null}, "x2": {"datum": 6050.8}}},
    {"data": {"name": "yM1"}, "mark": "rule", "encoding": {"y": {"field": "t", "type": "quantitative", "axis": null}, "x": {"datum": 8500, "type": "quantitative", "axis": null}, "x2": {"datum": 8454.2}}},
    {"data": {"name": "ym1"}, "mark": "rule", "encoding": {"y": {"field": "t", "type": "quantitative", "axis": null}, "x": {"datum": 8500, "type": "quantitative", "axis": null}, "x2": {"datum": 8479.2}}},
    {"data": {"values": [{}]}, "mark": {"type": "text", "text": "ISIS"}, "encoding": {"x": {"datum": 6184, "type": "quantitative", "axis": null}, "y": {"datum": 0.815, "type": "quantitative", "axis": null}}},
    {"data": {"values": [{}]}, "mark": {"type": "text", "text": "Detached"}, "encoding": {"x": {"datum": 6184, "type": "quantitative", "axis": null}, "y": {"datum": 0.60, "type": "quantitative", "axis": null}}},
    {"data": {"values": [{}]}, "mark": {"type": "text", "text": "M3+M5"}, "encoding": {"x": {"datum": 7990, "type": "quantitative", "axis": null}, "y": {"datum": 0.28, "type": "quantitative", "axis": null}}},
    {"data": {"values": [{}]}, "mark": {"type": "text", "text": "T"}, "encoding": {"x": {"datum": 7990, "type": "quantitative", "axis": null}, "y": {"datum": 0.075, "type": "quantitative", "axis": null}}},
    {"data": {"values": [{}]}, "mark": {"type": "text", "text": "eff", "fontSize": 8, "dx": 9.5, "dy": 3}, "encoding": {"x": {"datum": 7990, "type": "quantitative", "axis": null}, "y": {"datum": 0.075, "type": "quantitative", "axis": null}}},
    {"data": {"values": [{}]}, "mark": {"type": "text", "text": "=3300K", "dx": 19}, "encoding": {"x": {"datum": 7990, "type": "quantitative", "axis": null}, "y": {"datum": 0.075, "type": "quantitative", "axis": null}}}
  ],
  "resolve": {"axis": {"x": "independent", "y": "independent"}}
},
{
  "width": 593, "height": 104,
  "title": {"text": "P=0.2734 days - 07e-2-03887"},
  "layer": [
    {"data": {"name": "p2b"}, "mark": {"type": "line", "color": "#000", "strokeWidth": 1.3, "clip": true},
     "encoding": {
      "x": {"field": "w", "type": "quantitative", "scale": {"domain": [5000, 8283], "nice": false, "zero": false},
            "axis": {"orient": "bottom", "values": [5000,5500,6000,6500,7000,7500,8000], "format": "d", "labelPadding": 2, "title": "λ (Angstrom)", "titlePadding": -1}},
      "y": {"field": "f", "type": "quantitative", "scale": {"domain": [0.17, 1.106], "nice": false, "zero": false},
            "axis": {"orient": "left", "values": [0.2,0.4,0.6,0.8,1.0], "format": ".1f", "labelPadding": 3, "title": "Fλ", "titleFontWeight": "normal", "titleFontSize": 10, "titlePadding": 9}}
     }},
    {"data": {"name": "p2g"}, "mark": {"type": "line", "color": "#959595", "strokeWidth": 1.2, "clip": true},
     "encoding": {"x": {"field": "w", "type": "quantitative", "axis": null}, "y": {"field": "f", "type": "quantitative", "axis": null}}},
    {"data": {"values": [{}]}, "mark": {"type": "rule", "strokeWidth": 1, "strokeDash": [1.5, 2.5]},
     "encoding": {"x": {"datum": 6560, "type": "quantitative", "axis": null}, "y": {"datum": 0.17, "type": "quantitative", "axis": null}, "y2": {"datum": 0.86}}},
    {"data": {"name": "xM2"}, "mark": "rule", "encoding": {"x": {"field": "t", "type": "quantitative", "axis": null}, "y": {"datum": 0.17, "type": "quantitative", "axis": null}, "y2": {"datum": 0.233}}},
    {"data": {"name": "xm2"}, "mark": "rule", "encoding": {"x": {"field": "t", "type": "quantitative", "axis": null}, "y": {"datum": 0.17, "type": "quantitative", "axis": null}, "y2": {"datum": 0.2015}}},
    {"data": {"name": "xM2"}, "mark": "rule", "encoding": {"x": {"field": "t", "type": "quantitative", "axis": null}, "y": {"datum": 1.106, "type": "quantitative", "axis": null}, "y2": {"datum": 1.043}}},
    {"data": {"name": "xm2"}, "mark": "rule", "encoding": {"x": {"field": "t", "type": "quantitative", "axis": null}, "y": {"datum": 1.106, "type": "quantitative", "axis": null}, "y2": {"datum": 1.0745}}},
    {"data": {"name": "yM2"}, "mark": "rule", "encoding": {"y": {"field": "t", "type": "quantitative", "axis": null}, "x": {"datum": 5000, "type": "quantitative", "axis": null}, "x2": {"datum": 5060.9}}},
    {"data": {"name": "ym2"}, "mark": "rule", "encoding": {"y": {"field": "t", "type": "quantitative", "axis": null}, "x": {"datum": 5000, "type": "quantitative", "axis": null}, "x2": {"datum": 5027.7}}},
    {"data": {"name": "yM2"}, "mark": "rule", "encoding": {"y": {"field": "t", "type": "quantitative", "axis": null}, "x": {"datum": 8283, "type": "quantitative", "axis": null}, "x2": {"datum": 8222.1}}},
    {"data": {"name": "ym2"}, "mark": "rule", "encoding": {"y": {"field": "t", "type": "quantitative", "axis": null}, "x": {"datum": 8283, "type": "quantitative", "axis": null}, "x2": {"datum": 8255.3}}},
    {"data": {"values": [{}]}, "mark": {"type": "text", "text": "ACAM"}, "encoding": {"x": {"datum": 5305, "type": "quantitative", "axis": null}, "y": {"datum": 0.955, "type": "quantitative", "axis": null}}},
    {"data": {"values": [{}]}, "mark": {"type": "text", "text": "Semi-detached"}, "encoding": {"x": {"datum": 5305, "type": "quantitative", "axis": null}, "y": {"datum": 0.79, "type": "quantitative", "axis": null}}},
    {"data": {"values": [{}]}, "mark": {"type": "text", "text": "M2+M2"}, "encoding": {"x": {"datum": 7685, "type": "quantitative", "axis": null}, "y": {"datum": 0.47, "type": "quantitative", "axis": null}}},
    {"data": {"values": [{}]}, "mark": {"type": "text", "text": "T"}, "encoding": {"x": {"datum": 7685, "type": "quantitative", "axis": null}, "y": {"datum": 0.275, "type": "quantitative", "axis": null}}},
    {"data": {"values": [{}]}, "mark": {"type": "text", "text": "eff", "fontSize": 8, "dx": 9.5, "dy": 3}, "encoding": {"x": {"datum": 7685, "type": "quantitative", "axis": null}, "y": {"datum": 0.275, "type": "quantitative", "axis": null}}},
    {"data": {"values": [{}]}, "mark": {"type": "text", "text": "=3700K", "dx": 19}, "encoding": {"x": {"datum": 7685, "type": "quantitative", "axis": null}, "y": {"datum": 0.275, "type": "quantitative", "axis": null}}}
  ],
  "resolve": {"axis": {"x": "independent", "y": "independent"}}
},
{
  "width": 593, "height": 104,
  "title": {"text": "P=0.2090 days - 19g-3-06701"},
  "layer": [
    {"data": {"name": "p3b"}, "mark": {"type": "line", "color": "#000", "strokeWidth": 1.3, "clip": true},
     "encoding": {
      "x": {"field": "w", "type": "quantitative", "scale": {"domain": [6030, 8500], "nice": false, "zero": false},
            "axis": {"orient": "bottom", "values": [6500,7000,7500,8000,8500], "format": "d", "labelPadding": 2, "title": "λ (Angstrom)", "titlePadding": -1}},
      "y": {"field": "f", "type": "quantitative", "scale": {"domain": [-0.045, 1.23], "nice": false, "zero": false},
            "axis": {"orient": "left", "values": [0,0.2,0.4,0.6,0.8,1.0,1.2], "format": ".1f", "labelPadding": 3, "title": null}}
     }},
    {"data": {"name": "p3g"}, "mark": {"type": "line", "color": "#959595", "strokeWidth": 1.2, "clip": true},
     "encoding": {"x": {"field": "w", "type": "quantitative", "axis": null}, "y": {"field": "f", "type": "quantitative", "axis": null}}},
    {"data": {"values": [{}]}, "mark": {"type": "rule", "strokeWidth": 1, "strokeDash": [1.5, 2.5]},
     "encoding": {"x": {"datum": 6560, "type": "quantitative", "axis": null}, "y": {"datum": -0.045, "type": "quantitative", "axis": null}, "y2": {"datum": 0.82}}},
    {"data": {"name": "xM13"}, "mark": "rule", "encoding": {"x": {"field": "t", "type": "quantitative", "axis": null}, "y": {"datum": -0.045, "type": "quantitative", "axis": null}, "y2": {"datum": 0.0408}}},
    {"data": {"name": "xm13"}, "mark": "rule", "encoding": {"x": {"field": "t", "type": "quantitative", "axis": null}, "y": {"datum": -0.045, "type": "quantitative", "axis": null}, "y2": {"datum": -0.0021}}},
    {"data": {"name": "xM13"}, "mark": "rule", "encoding": {"x": {"field": "t", "type": "quantitative", "axis": null}, "y": {"datum": 1.23, "type": "quantitative", "axis": null}, "y2": {"datum": 1.1442}}},
    {"data": {"name": "xm13"}, "mark": "rule", "encoding": {"x": {"field": "t", "type": "quantitative", "axis": null}, "y": {"datum": 1.23, "type": "quantitative", "axis": null}, "y2": {"datum": 1.1871}}},
    {"data": {"name": "yM3"}, "mark": "rule", "encoding": {"y": {"field": "t", "type": "quantitative", "axis": null}, "x": {"datum": 6030, "type": "quantitative", "axis": null}, "x2": {"datum": 6075.8}}},
    {"data": {"name": "ym3"}, "mark": "rule", "encoding": {"y": {"field": "t", "type": "quantitative", "axis": null}, "x": {"datum": 6030, "type": "quantitative", "axis": null}, "x2": {"datum": 6050.8}}},
    {"data": {"name": "yM3"}, "mark": "rule", "encoding": {"y": {"field": "t", "type": "quantitative", "axis": null}, "x": {"datum": 8500, "type": "quantitative", "axis": null}, "x2": {"datum": 8454.2}}},
    {"data": {"name": "ym3"}, "mark": "rule", "encoding": {"y": {"field": "t", "type": "quantitative", "axis": null}, "x": {"datum": 8500, "type": "quantitative", "axis": null}, "x2": {"datum": 8479.2}}},
    {"data": {"values": [{}]}, "mark": {"type": "text", "text": "ISIS"}, "encoding": {"x": {"datum": 6184, "type": "quantitative", "axis": null}, "y": {"datum": 1.077, "type": "quantitative", "axis": null}}},
    {"data": {"values": [{}]}, "mark": {"type": "text", "text": "Contact"}, "encoding": {"x": {"datum": 6184, "type": "quantitative", "axis": null}, "y": {"datum": 0.85, "type": "quantitative", "axis": null}}},
    {"data": {"values": [{}]}, "mark": {"type": "text", "text": "M0+M1"}, "encoding": {"x": {"datum": 7990, "type": "quantitative", "axis": null}, "y": {"datum": 0.26, "type": "quantitative", "axis": null}}},
    {"data": {"values": [{}]}, "mark": {"type": "text", "text": "T"}, "encoding": {"x": {"datum": 7990, "type": "quantitative", "axis": null}, "y": {"datum": 0.074, "type": "quantitative", "axis": null}}},
    {"data": {"values": [{}]}, "mark": {"type": "text", "text": "eff", "fontSize": 8, "dx": 9.5, "dy": 3}, "encoding": {"x": {"datum": 7990, "type": "quantitative", "axis": null}, "y": {"datum": 0.074, "type": "quantitative", "axis": null}}},
    {"data": {"values": [{}]}, "mark": {"type": "text", "text": "=3900K", "dx": 19}, "encoding": {"x": {"datum": 7990, "type": "quantitative", "axis": null}, "y": {"datum": 0.074, "type": "quantitative", "axis": null}}}
  ],
  "resolve": {"axis": {"x": "independent", "y": "independent"}}
}
]
}
